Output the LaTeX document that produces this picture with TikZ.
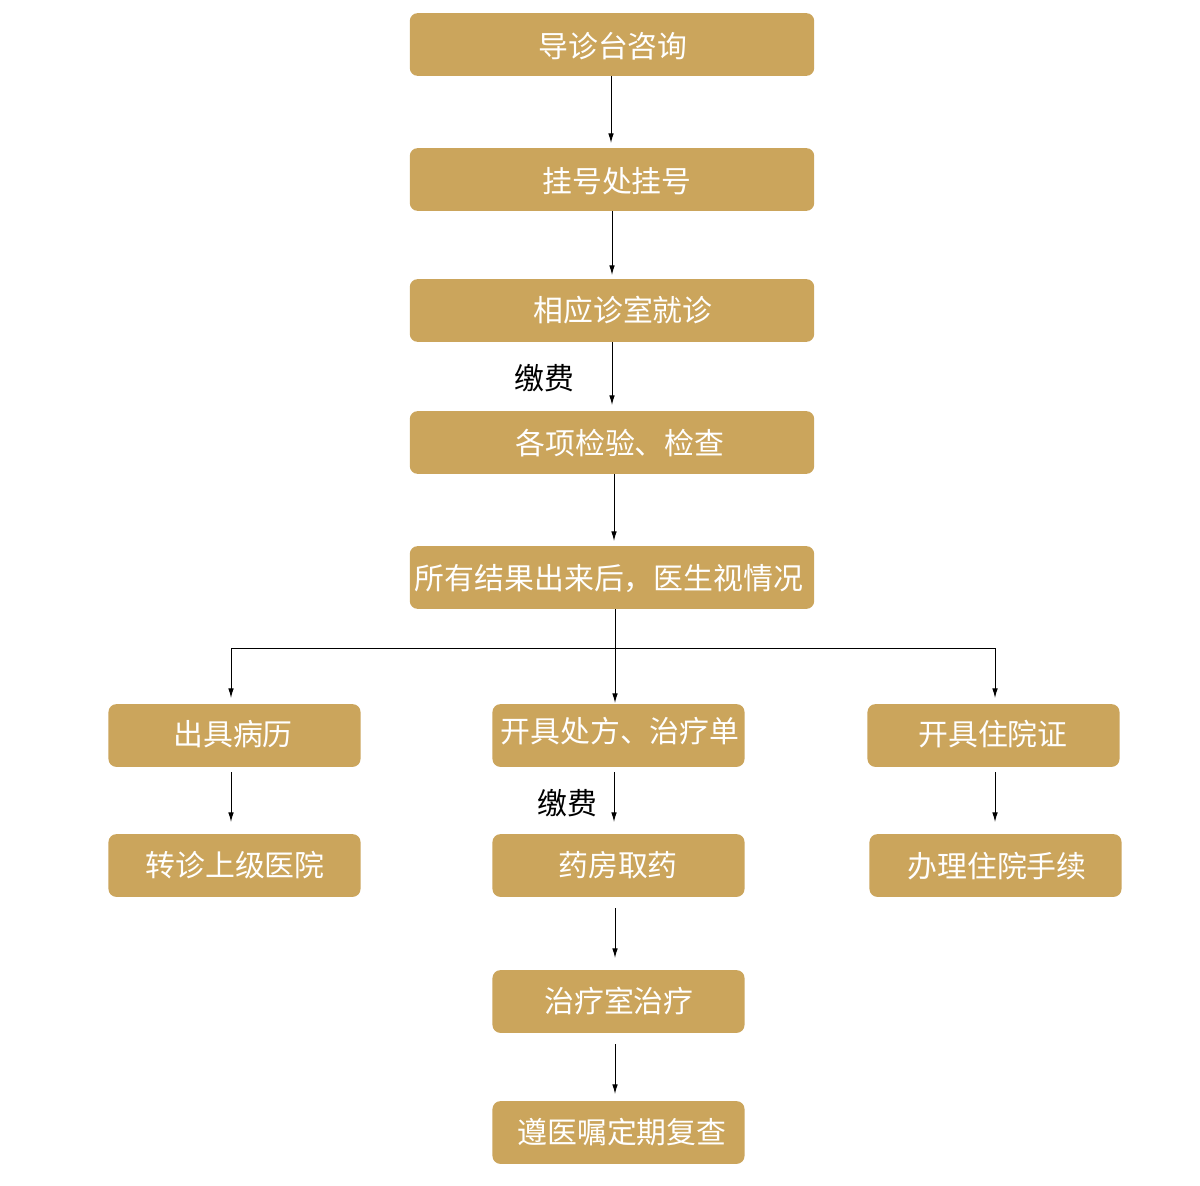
\documentclass[tikz,border=0pt]{standalone}
\usepackage{fontspec}
\setmainfont{Noto Sans CJK SC}
\usetikzlibrary{arrows.meta}
\tikzset{
  x=0.02cm, y=-0.02cm,
  box/.style={fill=gold, rounded corners=4.5pt, minimum width=406*0.567pt, minimum height=63*0.567pt, inner sep=0pt, text=white, font=\fontsize{17pt}{20pt}\selectfont},
  sbox/.style={box, minimum width=253*0.567pt},
  txt/.style={text=white, font=\fontsize{17pt}{20pt}\selectfont, inner sep=0pt},
  lbl/.style={text=black, font=\fontsize{17pt}{20pt}\selectfont, inner sep=0pt},
  arr/.style={draw=black, line width=0.55pt, -{Latex[length=5.5pt,width=3.2pt]}},
  ln/.style={draw=black, line width=0.55pt},
}
\definecolor{gold}{HTML}{CBA55C}
\begin{document}
\begin{tikzpicture}
\useasboundingbox (0,0) rectangle (1200,1186);
% main column boxes
\node[box] (b1) at (612,44.5) {};
\node[txt] at (613,46) {导诊台咨询};
\node[box] (b2) at (612,179.5) {};
\node[txt] at (617,181) {挂号处挂号};
\node[box] (b3) at (612,310.5) {};
\node[txt] at (623,310) {相应诊室就诊};
\node[box] (b4) at (612,442.5) {};
\node[txt] at (620,443) {各项检验、检查};
\node[box] (b5) at (612,577.5) {};
\node[txt] at (609,579) {所有结果出来后，医生视情况};
% second level
\node[sbox] (c1) at (234.5,735.5) {};
\node[txt] at (233,734) {出具病历};
\node[sbox] (c2) at (618.5,735.5) {};
\node[txt] at (620,731) {开具处方、治疗单};
\node[sbox] (c3) at (993.5,735.5) {};
\node[txt] at (993,734) {开具住院证};
\node[sbox] (d1) at (234.5,865.5) {};
\node[txt] at (235,865) {转诊上级医院};
\node[sbox] (d2) at (618.5,865.5) {};
\node[txt] at (618,865) {药房取药};
\node[sbox] (d3) at (995.5,865.5) {};
\node[txt] at (997,866) {办理住院手续};
\node[sbox] (e1) at (618.5,1001.5) {};
\node[txt] at (619,1001) {治疗室治疗};
\node[sbox] (f1) at (618.5,1132.5) {};
\node[txt] at (622,1132) {遵医嘱定期复查};
% labels
\node[lbl] (k1) at (544,378) {缴费};
\node[lbl] (k2) at (567,803) {缴费};
% branch coordinates
\coordinate (j0) at (615,648);
\coordinate (jl) at (231,648);
\coordinate (jr) at (995,648);
\coordinate (tl) at (231,698);
\coordinate (tm) at (615,703);
\coordinate (tr) at (995,698);
% connectors
\draw[arr] (b1.south -| 611,0) -- (611,143);
\draw[arr] (b2.south -| 612,0) -- (612,275);
\draw[arr] (b3.south -| 612,0) -- (612,405);
\draw[arr] (b4.south -| 614,0) -- (614,541);
\draw[ln] (b5.south -| j0) -- (j0);
\draw[ln] (jl) -- (jr);
\draw[arr] (jl) -- (tl);
\draw[arr] (j0) -- (tm);
\draw[arr] (jr) -- (tr);
\draw[arr] (231,772) -- (231,822);
\draw[arr] (614,772) -- (614,822);
\draw[arr] (995,772) -- (995,822);
\draw[arr] (615,908) -- (615,958);
\draw[arr] (615,1044) -- (615,1094);
\end{tikzpicture}
\end{document}
